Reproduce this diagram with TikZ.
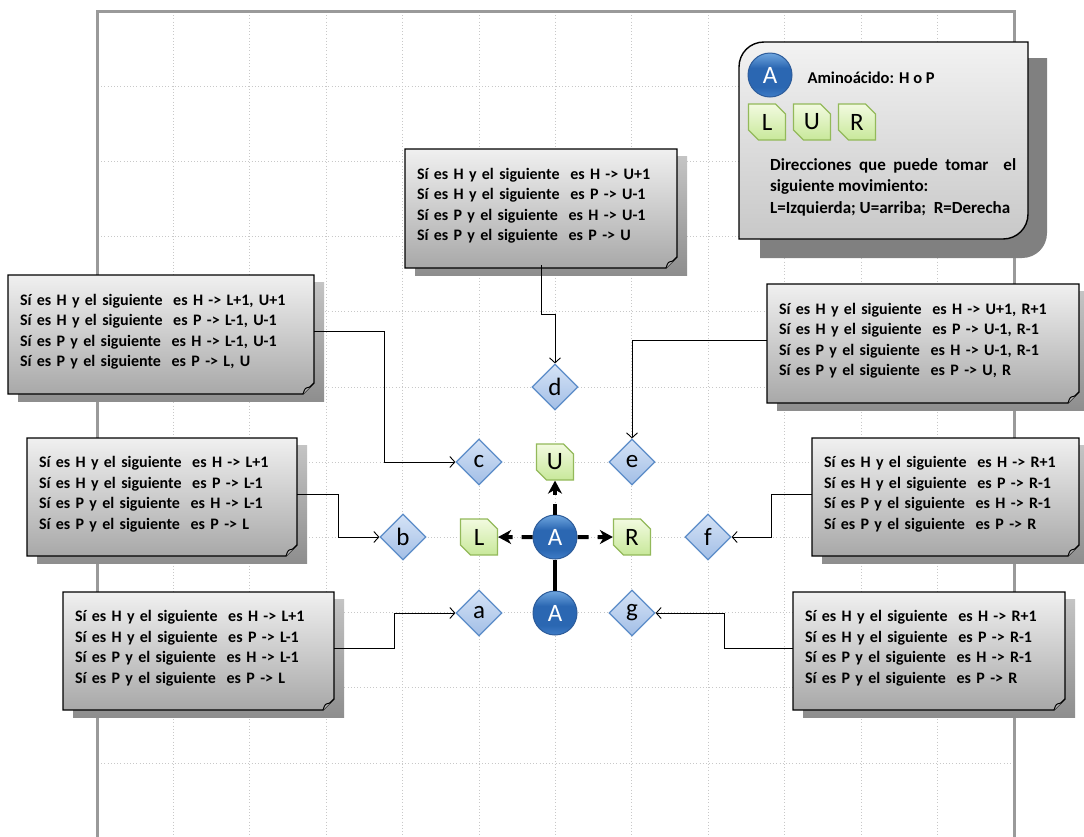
\documentclass[tikz,border=0pt]{standalone}
\usepackage{fontspec}
\setmainfont{Carlito}
\usetikzlibrary{arrows.meta,shapes.geometric,shapes.misc,calc}

\definecolor{framegray}{HTML}{9A9A9A}
\definecolor{gridgray}{HTML}{C8C8C8}
\definecolor{notetop}{HTML}{F0F0F0}
\definecolor{notebot}{HTML}{A8A8A8}
\definecolor{shadowtop}{HTML}{C4C4C4}
\definecolor{shadowbot}{HTML}{8E8E8E}
\definecolor{dmdtop}{HTML}{D5E3F6}
\definecolor{dmdbot}{HTML}{A2BEE6}
\definecolor{dmdline}{HTML}{5B8CC8}
\definecolor{grtop}{HTML}{F2FAE0}
\definecolor{grbot}{HTML}{C8E89A}
\definecolor{grline}{HTML}{93B95A}
\definecolor{orbtop}{HTML}{6FA6DF}
\definecolor{orbmid}{HTML}{2B67B2}
\definecolor{orbbot}{HTML}{3F7DC7}
\definecolor{orbline}{HTML}{2D5C9A}
\definecolor{legshadow}{HTML}{808080}
\definecolor{legtop}{HTML}{F2F2F2}
\definecolor{legbot}{HTML}{C8C8C8}

\pgfdeclareverticalshading{orb}{100bp}{color(0bp)=(orbbot); color(25bp)=(orbbot); color(36bp)=(orbmid); color(58bp)=(orbmid); color(75bp)=(orbtop); color(100bp)=(orbtop)}

\tikzset{
  gridline/.style={gridgray, line width=0.9pt, dash pattern=on 1pt off 2.2pt},
  frameline/.style={framegray, line width=3pt},
  notetext/.style={font=\bfseries\fontsize{16}{20.5}\selectfont, align=left,
    inner xsep=12pt, inner ysep=0pt, anchor=center},
  conn/.style={black, line width=0.9pt, -{Straight Barb[length=5pt,width=11pt]}},
  dmd/.style={diamond, minimum width=46pt, minimum height=46pt, inner sep=0pt,
    draw=dmdline, line width=1.2pt, top color=dmdtop, bottom color=dmdbot,
    font=\fontsize{25}{25}\selectfont},
  dirbox/.style={chamfered rectangle, chamfered rectangle corners={north east, south west},
    chamfered rectangle xsep=5pt, chamfered rectangle ysep=5pt,
    minimum width=37pt, minimum height=36pt, inner sep=0pt,
    draw=grline, line width=1.2pt, top color=grtop, bottom color=grbot,
    font=\fontsize{25}{25}\selectfont},
  orbnode/.style={circle, minimum size=44pt, inner sep=0pt, draw=orbline,
    line width=1pt, shading=orb, text=white, font=\fontsize{25}{25}\selectfont},
  movearrow/.style={line width=4pt, dash pattern=on 11pt off 9pt on 40pt,
    -{Stealth[length=13pt,width=14pt,inset=4pt]}},
  bond/.style={line width=4pt},
  legtext/.style={font=\bfseries\fontsize{17}{21.5}\selectfont, align=justify,
    text width=246pt, inner sep=0pt},
}

% note box with a folded lower right corner: name, x0, y0, x1, y1, text
\newcommand\notebox[6]{%
  \pgfmathsetmacro\nbW{#4-#2}%
  \pgfmathsetmacro\nbH{#5-#3}%
  \pgfmathsetmacro\nbT{#4-#2-24}%
  \shade[top color=shadowtop, bottom color=shadowbot] (#2+10,#3+7) rectangle (#4+10,#5+7);
  \shade[top color=notetop, bottom color=notebot, draw=black, line width=1.3pt]
    (#2,#3) -- (#4,#3) -- (#4,#5-11) -- (#4-11,#5) -- (#2,#5) -- cycle;
  \filldraw[fill=notebot!85!white, draw=black, line width=1pt]
    (#4-11,#5) .. controls (#4-9,#5-6) .. (#4-4,#5-7) .. controls (#4-2,#5-9) .. (#4,#5-11);
  \node[notetext, text width=\nbT pt, minimum width=\nbW pt, minimum height=\nbH pt]
    (#1) at ({(#2+#4)/2},{(#3+#5)/2-3}) {#6};
}

\begin{document}
\begin{tikzpicture}[x=1pt, y=-1pt]
\useasboundingbox (0,0) rectangle (1084,836);
\clip (0,0) rectangle (1084,836);
\fill[white] (0,0) rectangle (1084,836);

% dotted grid and sheet frame
\foreach \k in {1,...,11}
  \draw[gridline] ({97+76.4*\k},12) -- ({97+76.4*\k},836);
\foreach \k in {1,...,10}
  \draw[gridline] (98,{11+75.2*\k}) -- (1013,{11+75.2*\k});
\draw[frameline] (97,840) -- (97,11) -- (1014,11) -- (1014,840);

% legend card
\fill[legshadow] (760,58) -- (1047,58) -- (1047,233)
  .. controls (1047,247) and (1036,258) .. (1022,258) -- (760,258) -- cycle;
\shade[top color=legtop, bottom color=legbot, draw=black, line width=1.4pt]
  (739,67) .. controls (739,53) and (750,42) .. (764,42) -- (1028,42) -- (1028,214)
  .. controls (1028,228) and (1017,239) .. (1003,239) -- (739,239) -- cycle;
\node[orbnode] (legA) at (770,75) {A};
\node[font=\bfseries\fontsize{16.5}{18}\selectfont, anchor=west] (legtitle) at (804,78) {Aminoácido: H o P};
\node[dirbox] (legL) at (767,122) {L};
\node[dirbox] (legU) at (812,122) {U};
\node[dirbox] (legR) at (857,122) {R};
\node[legtext, anchor=north west] (legdesc) at (770,158)
  {Direcciones que puede tomar~ el\linebreak siguiente movimiento:\\
   L=Izquierda; U=arriba;~ R=Derecha};

% rule boxes
\notebox{nc}{8}{275}{314}{394}{Sí es H y el siguiente~ es H -> L+1, U+1\\
  Sí es H y el siguiente~ es P -> L-1, U-1\\
  Sí es P y el siguiente~ es H -> L-1, U-1\\
  Sí es P y el siguiente~ es P -> L, U}
\notebox{nd}{405}{149}{677}{268}{Sí es H y el siguiente~ es H -> U+1\\
  Sí es H y el siguiente~ es P -> U-1\\
  Sí es P y el siguiente~ es H -> U-1\\
  Sí es P y el siguiente~ es P -> U}
\notebox{ne}{767}{284}{1079}{403}{Sí es H y el siguiente~ es H -> U+1, R+1\\
  Sí es H y el siguiente~ es P -> U-1, R-1\\
  Sí es P y el siguiente~ es H -> U-1, R-1\\
  Sí es P y el siguiente~ es P -> U, R}
\notebox{nb}{27}{438}{297}{556}{Sí es H y el siguiente~ es H -> L+1\\
  Sí es H y el siguiente~ es P -> L-1\\
  Sí es P y el siguiente~ es H -> L-1\\
  Sí es P y el siguiente~ es P -> L}
\notebox{nf}{812}{438}{1079}{556}{Sí es H y el siguiente~ es H -> R+1\\
  Sí es H y el siguiente~ es P -> R-1\\
  Sí es P y el siguiente~ es H -> R-1\\
  Sí es P y el siguiente~ es P -> R}
\notebox{na}{63}{592}{334}{710}{Sí es H y el siguiente~ es H -> L+1\\
  Sí es H y el siguiente~ es P -> L-1\\
  Sí es P y el siguiente~ es H -> L-1\\
  Sí es P y el siguiente~ es P -> L}
\notebox{ng}{793}{592}{1065}{710}{Sí es H y el siguiente~ es H -> R+1\\
  Sí es H y el siguiente~ es P -> R-1\\
  Sí es P y el siguiente~ es H -> R-1\\
  Sí es P y el siguiente~ es P -> R}

% candidate positions
\node[dmd] (a) at (479,613) {a};
\node[dmd] (b) at (403,537) {b};
\node[dmd] (c) at (479,462) {c};
\node[dmd] (d) at (555,387) {d};
\node[dmd] (e) at (632,462) {e};
\node[dmd] (f) at (708,537) {f};
\node[dmd] (g) at (632,613) {g};

% chain and possible moves
\node[dirbox] (L) at (479,537) {L};
\node[dirbox] (U) at (555,462) {U};
\node[dirbox] (R) at (632,537) {R};
\node[orbnode] (A1) at (555,537) {A};
\node[orbnode] (A2) at (555,613) {A};
\draw[bond] (A1) -- (A2);
\draw[movearrow] (A1) -- (L);
\draw[movearrow] (A1) -- (U);
\draw[movearrow] (A1) -- (R);

% rule connectors
\draw[conn] (nc.east) -| ($(nc.east)!.5!(c.west)$) |- (c.west);
\draw[conn] (nd.south) |- ($(nd.south)!.5!(d.north)$) -| (d.north);
\draw[conn] (ne.west) -| (e.north);
\draw[conn] (nb.east) -| ($(nb.east)!.5!(b.west)$) |- (b.west);
\draw[conn] (nf.west) -| ($(nf.west)!.5!(f.east)$) |- (f.east);
\draw[conn] (na.east) -| ($(na.east)!.5!(a.west)$) |- (a.west);
\draw[conn] (ng.west) -| ($(ng.west)!.5!(g.east)$) |- (g.east);
\end{tikzpicture}
\end{document}
